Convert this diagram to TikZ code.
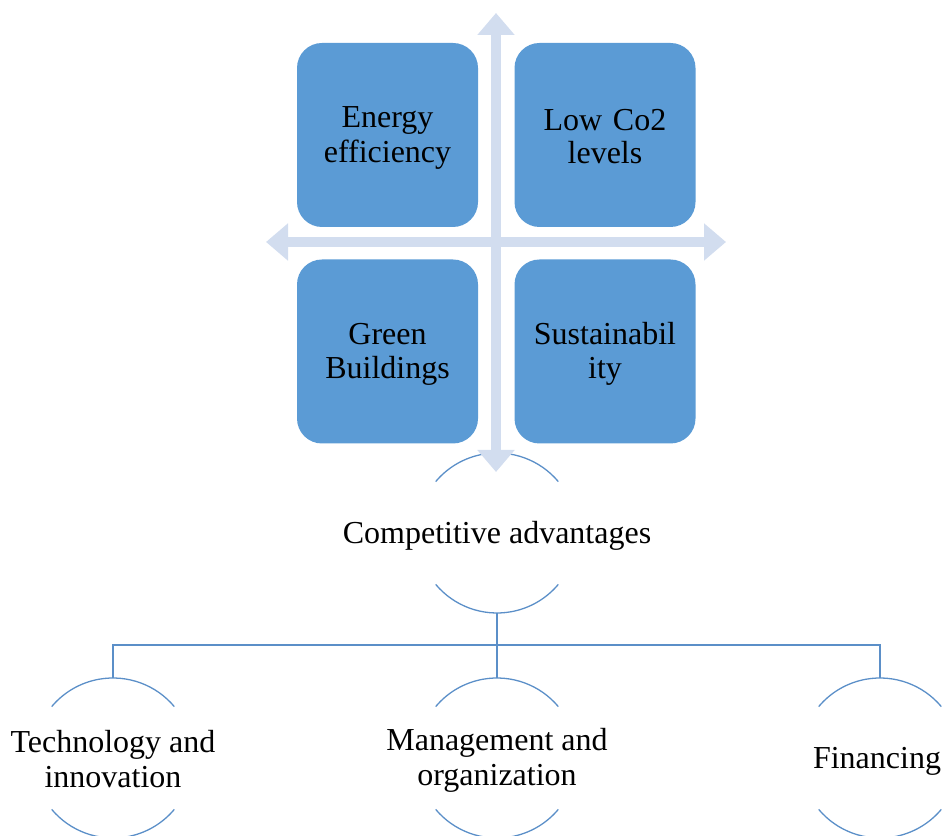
\documentclass[tikz,border=0pt]{standalone}
\usepackage{fontspec}
\setmainfont{Liberation Serif}
\usetikzlibrary{arrows.meta}
\definecolor{boxblue}{HTML}{5B9BD5}
\definecolor{arrowblue}{HTML}{D2DDEF}
\definecolor{lineblue}{HTML}{5B8FC8}
\newcommand\mystrut{\rule[-3pt]{0pt}{30pt}}
\begin{document}
\begin{tikzpicture}[x=1pt,y=1pt,
  quad/.style={rectangle, rounded corners=25pt, fill=boxblue, draw=none,
    minimum width=181pt, minimum height=184pt, text width=170pt, align=center,
    font=\fontsize{32}{33.5}\selectfont, inner sep=0pt},
  lbl/.style={align=center, font=\fontsize{32}{33.5}\selectfont, inner sep=0pt},
  cross/.style={draw=arrowblue, line width=10pt,
    {Triangle[length=22pt,width=36pt]}-{Triangle[length=22pt,width=36pt]}},
  arcline/.style={draw=lineblue, line width=1.3pt},
  tree/.style={draw=lineblue, line width=1.3pt}]
\useasboundingbox (0,0) rectangle (942,835);
\clip (0,0) rectangle (942,835);
% quadrant boxes
\node[quad] (ee) at (387.5,700) {\mystrut Energy\\\mystrut efficiency};
\node[quad] (co) at (605,700) {\mystrut Low Co2\\\mystrut levels};
\node[quad] (gb) at (387.5,483.5) {\mystrut Green\\\mystrut Buildings};
\node[quad] (su) at (605,483.5) {\mystrut Sustainabil\\\mystrut ity};
% circles (centres)
\coordinate (cac) at (497,302);
\coordinate (t1c) at (113,77);
\coordinate (t2c) at (497,77);
\coordinate (t3c) at (880,77);
\foreach \c in {cac,t1c,t2c,t3c}{
  \draw[arcline] ([shift={(40:80)}]\c) arc[start angle=40,end angle=140,radius=80];
  \draw[arcline] ([shift={(220:80)}]\c) arc[start angle=220,end angle=320,radius=80];
}
\node[lbl] (ca) at (cac) {\mystrut Competitive advantages};
\node[lbl] (t1) at (t1c) {\mystrut Technology and\\\mystrut innovation};
\node[lbl] (t2) at (t2c) {\mystrut Management and\\\mystrut organization};
\node[lbl] (t3) at (877,77) {\mystrut Financing};
% cross arrows
\coordinate (vt) at (496,822);
\coordinate (vb) at (496,363);
\coordinate (hl) at (266,593);
\coordinate (hr) at (726,593);
\draw[cross] (vb) -- (vt);
\draw[cross] (hl) -- (hr);
% tree
\coordinate (cab) at (497,222);
\coordinate (bar) at (497,190);
\draw[tree] (cab) -- (bar);
\draw[tree] ([yshift=80]t1c) |- (bar) -| ([yshift=80]t3c);
\draw[tree] (bar) -- ([yshift=80]t2c);
\end{tikzpicture}
\end{document}
